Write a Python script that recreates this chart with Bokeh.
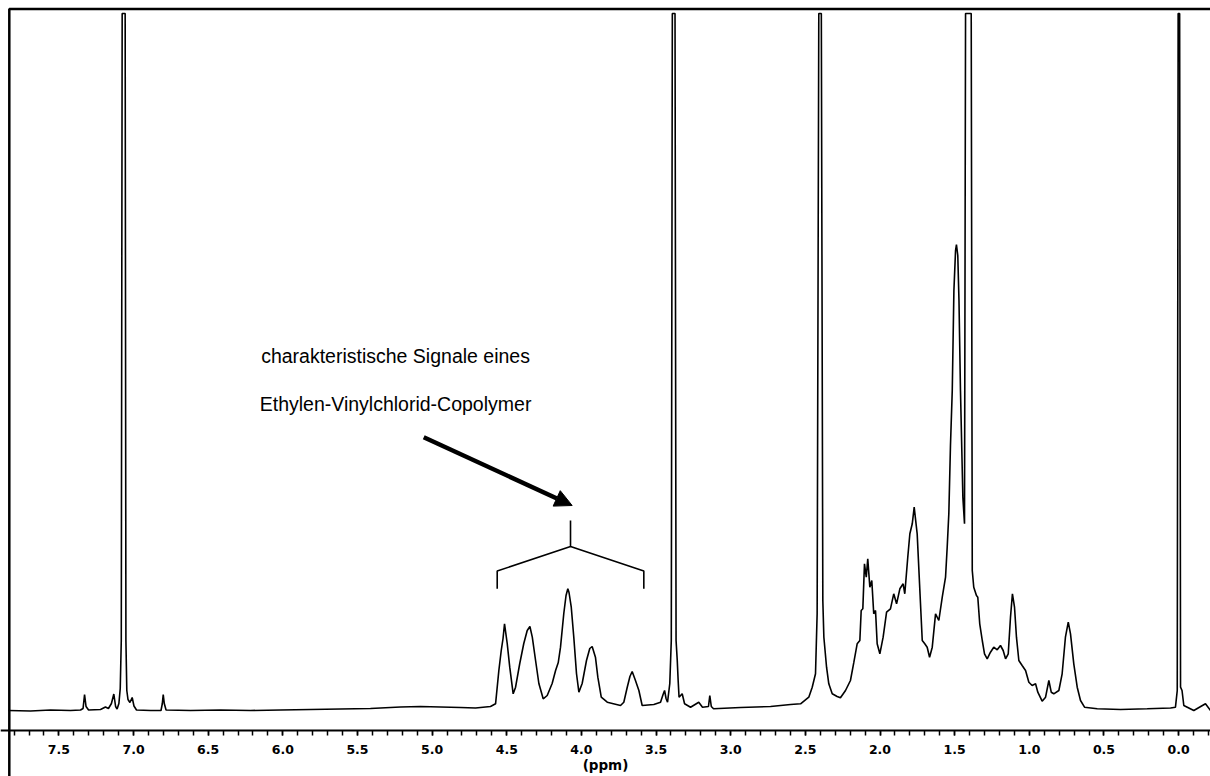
from bokeh.plotting import figure
from bokeh.models import (Range1d, SingleIntervalTicker, PrintfTickFormatter,
                          Label, Arrow, NormalHead)
from bokeh.embed import file_html
from bokeh.resources import INLINE

# 1H-NMR trace: chemical shift (ppm) and intensity (a.u.)
ppm = [7.837, 7.690, 7.556, 7.422, 7.355, 7.338, 7.328, 7.318, 7.301, 7.221,
       7.188, 7.168, 7.148, 7.132, 7.120, 7.110, 7.098, 7.089, 7.082, 7.076,
       7.056, 7.051, 7.045, 7.037, 7.024, 7.009, 6.997, 6.980, 6.886, 6.816,
       6.807, 6.801, 6.794, 6.782, 6.618, 6.417, 6.216, 6.015, 5.814, 5.614,
       5.413, 5.212, 5.078, 4.944, 4.810, 4.709, 4.609,
       4.575, 4.553, 4.537, 4.525, 4.515, 4.497, 4.480, 4.457, 4.441, 4.413,
       4.386, 4.363, 4.345, 4.329, 4.307, 4.285, 4.256, 4.229, 4.196, 4.173,
       4.155, 4.140, 4.118, 4.103, 4.091, 4.083, 4.068, 4.051, 4.033, 4.017,
       3.995, 3.966, 3.944, 3.928, 3.906, 3.890, 3.867, 3.827, 3.738, 3.716,
       3.693, 3.675, 3.660, 3.638, 3.615, 3.593, 3.515, 3.470, 3.453, 3.443,
       3.433, 3.423, 3.408, 3.398, 3.391, 3.373, 3.366, 3.358, 3.352, 3.346,
       3.325, 3.309, 3.269, 3.214, 3.189, 3.149, 3.140, 3.130, 3.115, 2.934,
       2.733, 2.599, 2.532, 2.477, 2.454, 2.432, 2.421, 2.410, 2.393, 2.383,
       2.376, 2.358, 2.343, 2.320, 2.287, 2.265, 2.231, 2.198, 2.175, 2.153,
       2.135, 2.126, 2.115, 2.104, 2.092, 2.082, 2.068, 2.055, 2.042, 2.030,
       2.019, 2.001, 1.979, 1.956, 1.930, 1.908, 1.889, 1.867, 1.845, 1.834,
       1.814, 1.800, 1.784, 1.771, 1.751, 1.733, 1.717, 1.700, 1.684, 1.668,
       1.650, 1.628, 1.606, 1.583, 1.561, 1.550, 1.539, 1.528, 1.516, 1.505,
       1.494, 1.488, 1.479, 1.471, 1.461, 1.445, 1.434, 1.427, 1.389, 1.382,
       1.372, 1.354, 1.345, 1.332, 1.315, 1.300, 1.282, 1.260, 1.238, 1.215,
       1.193, 1.175, 1.159, 1.141, 1.126, 1.113, 1.099, 1.086, 1.070, 1.048,
       1.025, 1.003, 0.981, 0.958, 0.943, 0.914, 0.891, 0.869, 0.853, 0.836,
       0.802, 0.780, 0.758, 0.739, 0.724, 0.702, 0.679, 0.657, 0.630, 0.545,
       0.389, 0.210, 0.054, 0.021, 0.009, 0.003, -0.007, -0.013, -0.023, -0.035,
       -0.102, -0.180, -0.214]

intensity = [1, 0.5, 1.5, 1, 1.5, 3, 17, 5, 1.5, 2,
             4.5, 3, 8, 17.5, 5, 2.5, 8, 23, 71, 698,
             698, 71, 21, 12, 9, 14, 5.5, 1.5, 1, 1,
             8, 17, 8, 1.5, 1, 1.5, 1, 1.5, 2, 2.5,
             3, 4.5, 5, 4.5, 4, 3.5, 5,
             7.7, 41, 61, 73, 87.7, 68, 44.3, 17.7, 24.3, 48,
             68, 81, 85, 74.3, 51, 28, 12.7, 16, 28, 41,
             49, 64.3, 98, 116, 122.7, 119, 104.3, 74.3, 38, 19.3,
             28, 51, 63, 65, 54.3, 34.3, 14.3, 9.3, 6, 9.3,
             24.3, 35, 40, 31, 21, 6, 7, 9.3, 17, 21,
             13, 9.3, 28, 71, 698, 698, 71, 51, 31, 14.3,
             17.7, 7.7, 4.3, 9.3, 4.3, 5, 16, 5, 2.7, 4,
             5, 7, 7.7, 14.3, 24.3, 37.7, 98, 698, 698, 111,
             74.3, 44.3, 27.7, 17.7, 15, 13.7, 21, 31, 49.3, 67.7,
             71, 101, 102.7, 147.7, 134.3, 152.7, 124.3, 131, 97.7, 101,
             67.7, 57.7, 74.3, 99.3, 102.7, 117.7, 107.7, 122.7, 127.7, 117.7,
             154.3, 177.7, 187.7, 204.3, 177.7, 121, 71, 67.7, 64.3, 54.3,
             64.3, 97.7, 91, 114.3, 134.3, 164.3, 198, 266, 321, 421,
             461, 467, 456, 411, 321, 214.3, 187.7, 698, 698, 141,
             124.3, 116, 114.3, 87.7, 71, 57.7, 52.7, 59.3, 64.3, 61.7,
             66, 61, 52.7, 57.7, 94.3, 117.7, 104.3, 74.3, 51, 46,
             41, 29.3, 26, 27.7, 19.3, 10.3, 14.3, 31, 19.3, 17.7,
             21, 37.7, 74.3, 89.3, 77.7, 47.7, 24.3, 11, 4.3, 2.7,
             2, 2.7, 3.5, 4.3, 21, 698, 698, 24.3, 21, 6,
             1, 7.7, 1]

# annotation: text, arrow and bracket (data coordinates)
note_lines = ["charakteristische Signale eines", "Ethylen-Vinylchlorid-Copolymer"]
note_x = 5.245
note_y = [355.3, 307.3]
arrow_start = (5.056, 274.3)
arrow_end = (4.062, 206.0)
bracket_x = [4.564, 4.564, 4.073, 4.073, 4.073, 3.582, 3.582]
bracket_y = [122.7, 140.5, 165.0, 191.0, 165.0, 140.5, 122.7]

# frame lines of the spectrum box (left and top edge)
frame_x = [7.832, 7.832, -0.300]
frame_y = [-80.0, 702.5, 702.5]

p = figure(width=1210, height=776, output_backend="svg", toolbar_location=None,
           x_range=Range1d(7.891, -0.2137), y_range=Range1d(-65, 711),
           y_axis_location=None, x_axis_location="below",
           min_border_left=0, min_border_right=0, min_border_top=0, min_border_bottom=0)
p.grid.visible = False
p.outline_line_color = None
p.background_fill_color = "white"
p.border_fill_color = "white"

ax = p.xaxis[0]
ax.fixed_location = -19
ax.ticker = SingleIntervalTicker(interval=0.5, num_minor_ticks=5)
ax.formatter = PrintfTickFormatter(format="%.1f")
ax.axis_line_width = 2
ax.axis_line_color = "black"
ax.major_tick_in = 0
ax.major_tick_out = 5
ax.minor_tick_in = 0
ax.minor_tick_out = 5
ax.major_tick_line_width = 1.5
ax.minor_tick_line_width = 1.5
ax.major_label_text_font = "DejaVu Sans"
ax.major_label_text_font_style = "bold"
ax.major_label_text_font_size = "12.5px"
ax.major_label_text_color = "black"
ax.major_label_standoff = 9
ax.axis_label = "(ppm)"
ax.axis_label_text_font = "DejaVu Sans"
ax.axis_label_text_font_style = "bold"
ax.axis_label_text_font_size = "13.5px"
ax.axis_label_text_color = "black"
ax.axis_label_standoff = 0

p.line(frame_x, frame_y, line_color="black", line_width=2.5)

p.line(ppm, intensity, line_color="black", line_width=1.6)

for txt, yy in zip(note_lines, note_y):
    p.add_layout(Label(x=note_x, y=yy, text=txt, text_align="center",
                       text_baseline="alphabetic", text_font="Liberation Sans",
                       text_font_size="19.5px", text_color="black"))

p.add_layout(Arrow(end=NormalHead(size=17, fill_color="black", line_color="black", line_width=1),
                   x_start=arrow_start[0], y_start=arrow_start[1],
                   x_end=arrow_end[0], y_end=arrow_end[1],
                   line_color="black", line_width=4.5))

p.line(bracket_x, bracket_y, line_color="black", line_width=1.6)

open("out.html", "w").write(file_html(p, INLINE))
